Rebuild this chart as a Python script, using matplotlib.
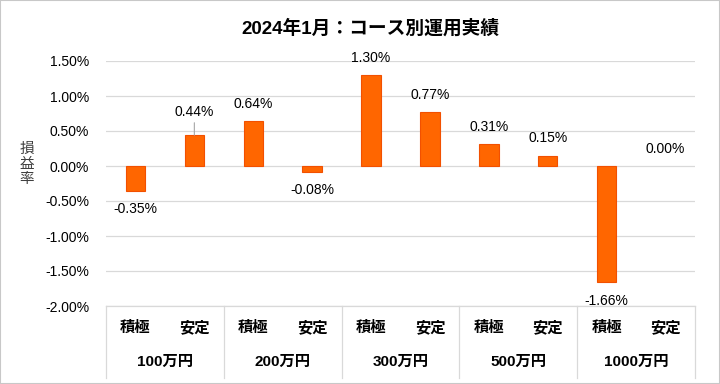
import matplotlib.pyplot as plt
from matplotlib.patches import Rectangle

plt.rcParams['font.family'] = ['Liberation Sans', 'Noto Sans CJK JP', 'DejaVu Sans']

groups = ["100万円", "200万円", "300万円", "500万円", "1000万円"]
courses = ["積極", "安定"]
values = [-0.35, 0.44, 0.64, -0.08, 1.30, 0.77, 0.31, 0.15, -1.66, 0.00]
yticks = [-2.0, -1.5, -1.0, -0.5, 0.0, 0.5, 1.0, 1.5]

fig = plt.figure(figsize=(7.2, 3.84), dpi=100)
ax = fig.add_axes([106 / 720, 1 - 306 / 384, 589 / 720, 245 / 384])

x = list(range(len(values)))
widths = [0.8 if v != 0 else 0 for v in values]
ax.bar(x, values, width=0.33, color='#FF6600', edgecolor='#F25000', linewidth=widths, zorder=3)

ax.set_xlim(-0.5, len(values) - 0.5)
ax.set_ylim(-2.0, 1.5)
ax.set_yticks(yticks)
ax.set_yticklabels([f"{v:.2f}%" for v in yticks], fontsize=10)
ax.tick_params(axis='y', length=0, pad=12)
ax.set_xticks([])
ax.grid(axis='y', color='#D9D9D9', linewidth=0.9, zorder=0)
for s in ['left', 'right', 'top']:
    ax.spines[s].set_visible(False)
ax.spines['bottom'].set_color('#D9D9D9')
ax.spines['bottom'].set_linewidth(0.9)

# data labels
for i, v in enumerate(values):
    label = f"{v:.2f}%"
    if i == 1:
        ax.annotate(label, xy=(i, v), xytext=(0, 17), textcoords='offset points',
                    ha='center', va='center', fontsize=10,
                    arrowprops=dict(arrowstyle='-', color='#A6A6A6', lw=0.8,
                                    shrinkA=1, shrinkB=0))
    else:
        off = 12.5 if v >= 0 else -13.5
        ax.annotate(label, xy=(i, v), xytext=(0, off), textcoords='offset points',
                    ha='center', va='center', fontsize=10)

# multi-level category axis
trans = ax.get_xaxis_transform()
for i in range(len(values)):
    ax.text(i, -0.09, courses[i % 2], transform=trans, ha='center', va='center',
            fontsize=11, fontweight='bold')
for g, name in enumerate(groups):
    ax.text(2 * g + 0.5, -0.229, name, transform=trans, ha='center', va='center',
            fontsize=11, fontweight='bold')
for b in range(len(groups) + 1):
    ax.plot([2 * b - 0.5, 2 * b - 0.5], [0, -0.294], transform=trans,
            color='#D9D9D9', lw=0.9, clip_on=False)

fig.text(27 / 720, 1 - 164 / 384, "損\n益\n率", ha='center', va='center',
         fontsize=10.5, color='#404040', linespacing=1.05)
fig.text(370 / 720, 1 - 28 / 384, "2024年1月：コース別運用実績", ha='center', va='center',
         fontsize=13.5, fontweight='bold')

fig.patches.append(Rectangle((0, 0), 1, 1, transform=fig.transFigure, fill=False,
                             edgecolor='#C8C8C8', linewidth=1.5))

fig.savefig('out.png', dpi=100)
